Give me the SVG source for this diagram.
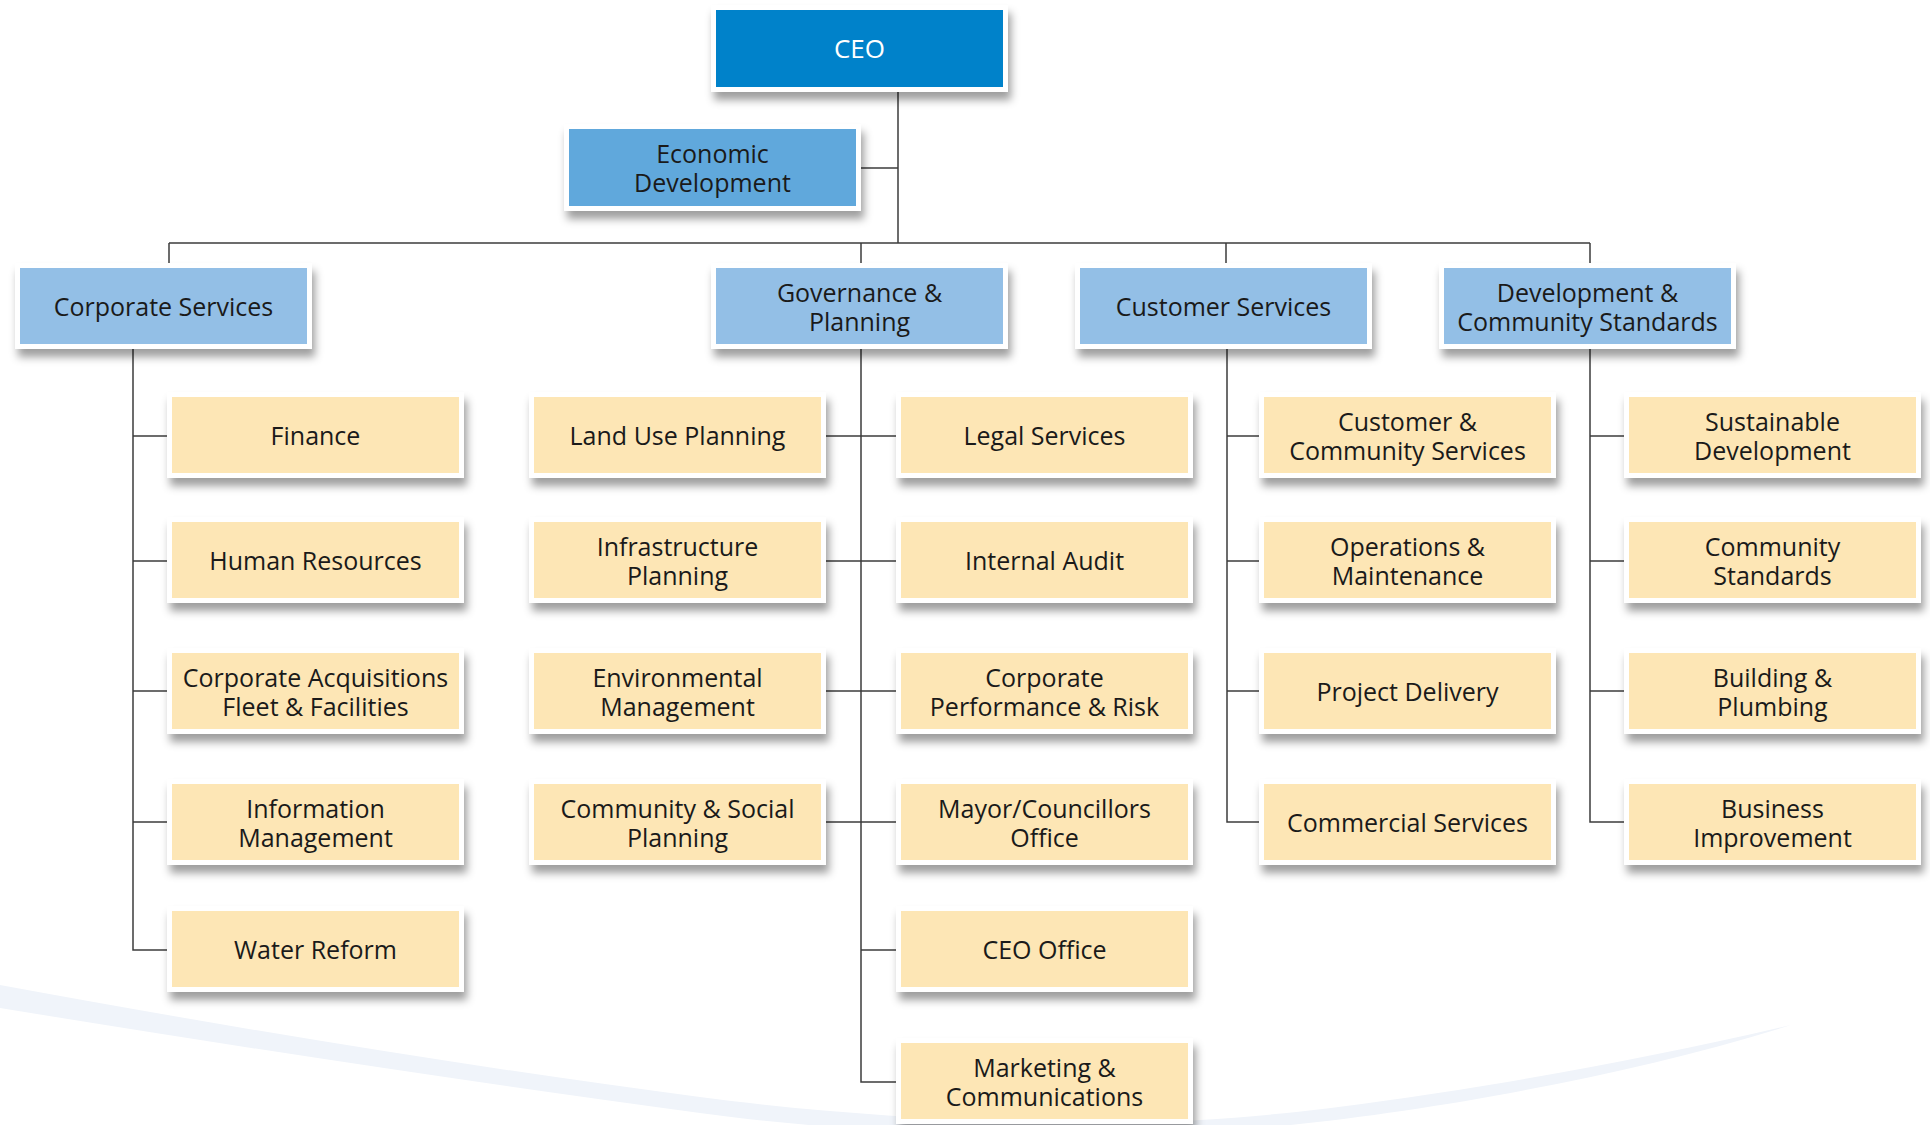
<svg xmlns="http://www.w3.org/2000/svg" width="1930" height="1125" viewBox="0 0 1930 1125">
  <defs>
    <filter id="shadow" x="-10%" y="-20%" width="125%" height="160%">
      <feDropShadow dx="3" dy="8" stdDeviation="4.5" flood-color="#000" flood-opacity="0.38"/>
    </filter>
  </defs>
  <style>
    .frame { fill: #ffffff; filter: url(#shadow); }
    .ceo { fill: #0082ca; }
    .staff { fill: #60a8dc; }
    .dir { fill: #93bfe6; }
    .unit { fill: #fde6b5; }
    .t { font-family: "Open Sans", "Noto Sans", "DejaVu Sans", sans-serif; font-size: 25px; fill: #1a1a1a; text-anchor: middle; }
    .tw { fill: #ffffff; font-size: 26px; }
    .link { fill: none; stroke: #3c3c3c; stroke-width: 1.5; }
    .swoosh { fill: #f0f4fa; }
  </style>

  <rect width="1930" height="1125" fill="#ffffff"/>

  <!-- decorative band along the bottom -->
  <path class="swoosh" d="M0 985 Q380 1055 700 1097 C850 1117 1050 1128 1200 1120 C1350 1112 1600 1070 1791 1025 C1600 1085 1350 1125 1200 1132 C1050 1140 850 1134 700 1113 Q380 1070 0 1008 Z"/>

  <!-- connectors -->
  <g id="connectors">
    <path class="link" d="M898 92 V243 M861 168 H898"/>
    <path class="link" d="M169 243 H1590 M169 243 V263 M861 243 V263 M1226 243 V263 M1590 243 V263"/>
    <!-- Corporate Services branch -->
    <path class="link" d="M133 349 V950 H167 M133 436 H167 M133 561 H167 M133 691 H167 M133 822 H167"/>
    <!-- Governance & Planning branch -->
    <path class="link" d="M861 349 V1082 H896 M826 436 H896 M826 561 H896 M826 691 H896 M826 822 H896 M861 950 H896"/>
    <!-- Customer Services branch -->
    <path class="link" d="M1227 349 V822 H1259 M1227 436 H1259 M1227 561 H1259 M1227 691 H1259"/>
    <!-- Development & Community Standards branch -->
    <path class="link" d="M1590 349 V822 H1624 M1590 436 H1624 M1590 561 H1624 M1590 691 H1624"/>
  </g>

  <!-- executive -->
  <g id="ceo">
    <rect class="frame" x="711" y="5" width="297" height="87"/>
    <rect class="ceo" x="716" y="10" width="287" height="77"/>
    <text class="t tw" x="859.5" y="58">CEO</text>
  </g>
  <g id="economic-development">
    <rect class="frame" x="564" y="124" width="297" height="87"/>
    <rect class="staff" x="569" y="129" width="287" height="77"/>
    <text class="t" x="712.5" y="163">Economic<tspan x="712.5" dy="29">Development</tspan></text>
  </g>

  <!-- directorates -->
  <g id="corporate-services">
    <rect class="frame" x="15" y="263" width="297" height="86"/>
    <rect class="dir" x="20" y="268" width="287" height="76"/>
    <text class="t" x="163.5" y="316">Corporate Services</text>
  </g>
  <g id="governance-planning">
    <rect class="frame" x="711" y="263" width="297" height="86"/>
    <rect class="dir" x="716" y="268" width="287" height="76"/>
    <text class="t" x="859.5" y="302">Governance &amp;<tspan x="859.5" dy="29">Planning</tspan></text>
  </g>
  <g id="customer-services">
    <rect class="frame" x="1075" y="263" width="297" height="86"/>
    <rect class="dir" x="1080" y="268" width="287" height="76"/>
    <text class="t" x="1223.5" y="316">Customer Services</text>
  </g>
  <g id="development-community-standards">
    <rect class="frame" x="1439" y="263" width="297" height="86"/>
    <rect class="dir" x="1444" y="268" width="287" height="76"/>
    <text class="t" x="1587.5" y="302">Development &amp;<tspan x="1587.5" dy="29">Community Standards</tspan></text>
  </g>

  <!-- Corporate Services units -->
  <g id="finance">
    <rect class="frame" x="167" y="392" width="297" height="86"/>
    <rect class="unit" x="172" y="397" width="287" height="76"/>
    <text class="t" x="315.5" y="445">Finance</text>
  </g>
  <g id="human-resources">
    <rect class="frame" x="167" y="517" width="297" height="86"/>
    <rect class="unit" x="172" y="522" width="287" height="76"/>
    <text class="t" x="315.5" y="570">Human Resources</text>
  </g>
  <g id="corporate-acquisitions">
    <rect class="frame" x="167" y="648" width="297" height="86"/>
    <rect class="unit" x="172" y="653" width="287" height="76"/>
    <text class="t" x="315.5" y="687">Corporate Acquisitions<tspan x="315.5" dy="29">Fleet &amp; Facilities</tspan></text>
  </g>
  <g id="information-management">
    <rect class="frame" x="167" y="779" width="297" height="86"/>
    <rect class="unit" x="172" y="784" width="287" height="76"/>
    <text class="t" x="315.5" y="818">Information<tspan x="315.5" dy="29">Management</tspan></text>
  </g>
  <g id="water-reform">
    <rect class="frame" x="167" y="906" width="297" height="86"/>
    <rect class="unit" x="172" y="911" width="287" height="76"/>
    <text class="t" x="315.5" y="959">Water Reform</text>
  </g>

  <!-- Governance & Planning units (left) -->
  <g id="land-use-planning">
    <rect class="frame" x="529" y="392" width="297" height="86"/>
    <rect class="unit" x="534" y="397" width="287" height="76"/>
    <text class="t" x="677.5" y="445">Land Use Planning</text>
  </g>
  <g id="infrastructure-planning">
    <rect class="frame" x="529" y="517" width="297" height="86"/>
    <rect class="unit" x="534" y="522" width="287" height="76"/>
    <text class="t" x="677.5" y="556">Infrastructure<tspan x="677.5" dy="29">Planning</tspan></text>
  </g>
  <g id="environmental-management">
    <rect class="frame" x="529" y="648" width="297" height="86"/>
    <rect class="unit" x="534" y="653" width="287" height="76"/>
    <text class="t" x="677.5" y="687">Environmental<tspan x="677.5" dy="29">Management</tspan></text>
  </g>
  <g id="community-social-planning">
    <rect class="frame" x="529" y="779" width="297" height="86"/>
    <rect class="unit" x="534" y="784" width="287" height="76"/>
    <text class="t" x="677.5" y="818">Community &amp; Social<tspan x="677.5" dy="29">Planning</tspan></text>
  </g>

  <!-- Governance & Planning units (right) -->
  <g id="legal-services">
    <rect class="frame" x="896" y="392" width="297" height="86"/>
    <rect class="unit" x="901" y="397" width="287" height="76"/>
    <text class="t" x="1044.5" y="445">Legal Services</text>
  </g>
  <g id="internal-audit">
    <rect class="frame" x="896" y="517" width="297" height="86"/>
    <rect class="unit" x="901" y="522" width="287" height="76"/>
    <text class="t" x="1044.5" y="570">Internal Audit</text>
  </g>
  <g id="corporate-performance-risk">
    <rect class="frame" x="896" y="648" width="297" height="86"/>
    <rect class="unit" x="901" y="653" width="287" height="76"/>
    <text class="t" x="1044.5" y="687">Corporate<tspan x="1044.5" dy="29">Performance &amp; Risk</tspan></text>
  </g>
  <g id="mayor-councillors-office">
    <rect class="frame" x="896" y="779" width="297" height="86"/>
    <rect class="unit" x="901" y="784" width="287" height="76"/>
    <text class="t" x="1044.5" y="818">Mayor/Councillors<tspan x="1044.5" dy="29">Office</tspan></text>
  </g>
  <g id="ceo-office">
    <rect class="frame" x="896" y="906" width="297" height="86"/>
    <rect class="unit" x="901" y="911" width="287" height="76"/>
    <text class="t" x="1044.5" y="959">CEO Office</text>
  </g>
  <g id="marketing-communications">
    <rect class="frame" x="896" y="1038" width="297" height="86"/>
    <rect class="unit" x="901" y="1043" width="287" height="76"/>
    <text class="t" x="1044.5" y="1077">Marketing &amp;<tspan x="1044.5" dy="29">Communications</tspan></text>
  </g>

  <!-- Customer Services units -->
  <g id="customer-community-services">
    <rect class="frame" x="1259" y="392" width="297" height="86"/>
    <rect class="unit" x="1264" y="397" width="287" height="76"/>
    <text class="t" x="1407.5" y="431">Customer &amp;<tspan x="1407.5" dy="29">Community Services</tspan></text>
  </g>
  <g id="operations-maintenance">
    <rect class="frame" x="1259" y="517" width="297" height="86"/>
    <rect class="unit" x="1264" y="522" width="287" height="76"/>
    <text class="t" x="1407.5" y="556">Operations &amp;<tspan x="1407.5" dy="29">Maintenance</tspan></text>
  </g>
  <g id="project-delivery">
    <rect class="frame" x="1259" y="648" width="297" height="86"/>
    <rect class="unit" x="1264" y="653" width="287" height="76"/>
    <text class="t" x="1407.5" y="701">Project Delivery</text>
  </g>
  <g id="commercial-services">
    <rect class="frame" x="1259" y="779" width="297" height="86"/>
    <rect class="unit" x="1264" y="784" width="287" height="76"/>
    <text class="t" x="1407.5" y="832">Commercial Services</text>
  </g>

  <!-- Development & Community Standards units -->
  <g id="sustainable-development">
    <rect class="frame" x="1624" y="392" width="297" height="86"/>
    <rect class="unit" x="1629" y="397" width="287" height="76"/>
    <text class="t" x="1772.5" y="431">Sustainable<tspan x="1772.5" dy="29">Development</tspan></text>
  </g>
  <g id="community-standards">
    <rect class="frame" x="1624" y="517" width="297" height="86"/>
    <rect class="unit" x="1629" y="522" width="287" height="76"/>
    <text class="t" x="1772.5" y="556">Community<tspan x="1772.5" dy="29">Standards</tspan></text>
  </g>
  <g id="building-plumbing">
    <rect class="frame" x="1624" y="648" width="297" height="86"/>
    <rect class="unit" x="1629" y="653" width="287" height="76"/>
    <text class="t" x="1772.5" y="687">Building &amp;<tspan x="1772.5" dy="29">Plumbing</tspan></text>
  </g>
  <g id="business-improvement">
    <rect class="frame" x="1624" y="779" width="297" height="86"/>
    <rect class="unit" x="1629" y="784" width="287" height="76"/>
    <text class="t" x="1772.5" y="818">Business<tspan x="1772.5" dy="29">Improvement</tspan></text>
  </g>
</svg>
